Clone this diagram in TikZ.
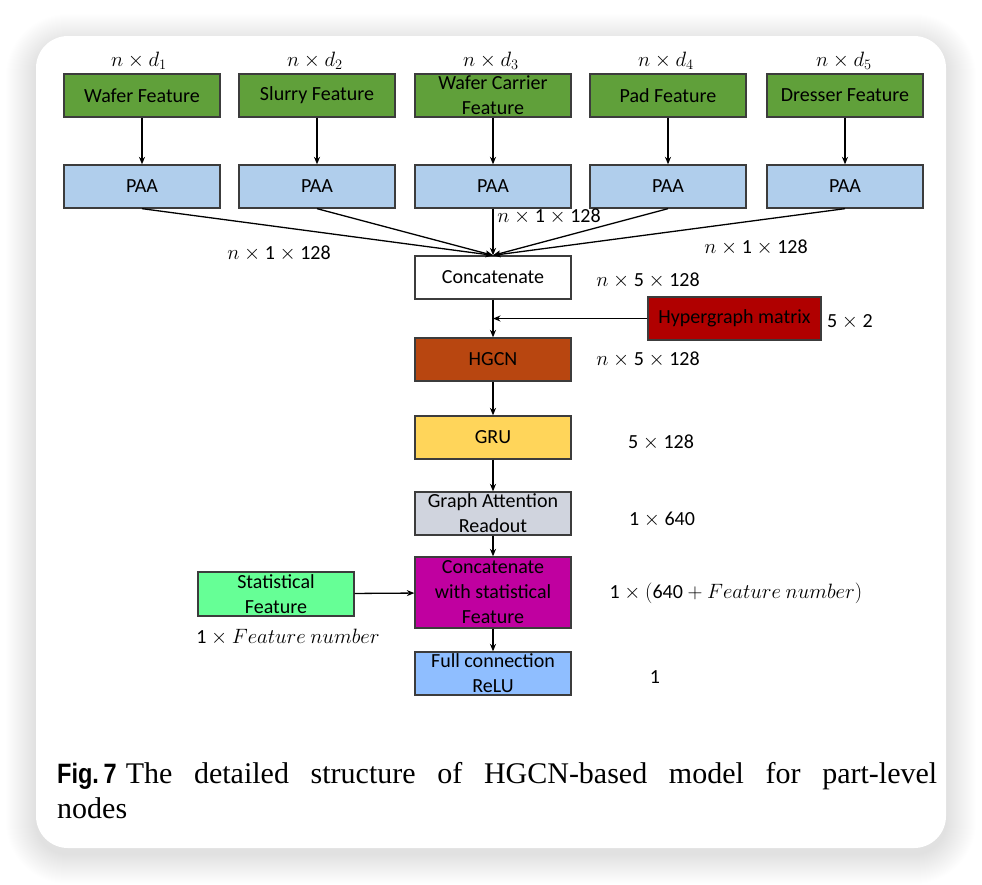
\documentclass[tikz,border=0pt]{standalone}
\usepackage{fontspec}
\setmainfont{Carlito}
\newfontfamily\capserif{Liberation Serif}
\newfontfamily\capsans[FakeStretch=0.84]{Liberation Sans}
\usetikzlibrary{arrows.meta}
\definecolor{cgreen}{RGB}{96,160,58}
\definecolor{cpaa}{RGB}{176,206,236}
\definecolor{chyp}{RGB}{176,0,0}
\definecolor{chgcn}{RGB}{184,70,16}
\definecolor{cgru}{RGB}{255,213,90}
\definecolor{cgar}{RGB}{208,212,222}
\definecolor{cmag}{RGB}{192,0,160}
\definecolor{cstat}{RGB}{102,255,150}
\definecolor{cfc}{RGB}{143,190,255}
\definecolor{cborder}{RGB}{60,60,60}
\newcommand{\tx}[1]{\mbox{#1}}
\tikzset{
  blk/.style={draw=cborder, line width=1.3pt, minimum width=156pt, minimum height=43pt,
    inner sep=0pt, align=center, font=\fontsize{20}{25}\selectfont},
  lab/.style={inner sep=0pt, font=\fontsize{20}{25}\selectfont},
  arr/.style={line width=1.3pt, -{Stealth[length=7.5pt,width=6pt]}},
}
\begin{document}
\begin{tikzpicture}[x=1pt,y=-1pt]
\useasboundingbox (0,0) rectangle (982,884);
\fill[white] (0,0) rectangle (982,884);
% shadow
\foreach \i [evaluate=\i as \r using 32+\i] in {1,...,30}{
  \fill[black, opacity=0.0055, rounded corners=\r pt] (36-\i,44-\i) rectangle (946+\i,854+\i);
}
\fill[white, rounded corners=32pt] (36,36) rectangle (946,848);

% feature boxes
\node[blk, fill=cgreen] (f1) at (142,95.5) {Wafer Feature};
\node[blk, fill=cgreen] (f2) at (317,95.5) {Slurry Feature};
\node[blk, fill=cgreen] (f3) at (493,95.5) {Wafer Carrier\\Feature};
\node[blk, fill=cgreen] (f4) at (668,95.5) {Pad Feature};
\node[blk, fill=cgreen] (f5) at (845,95.5) {Dresser Feature};

\node[lab] (d1) at (139,61) {$n\times d_1$};
\node[lab] (d2) at (315,61) {$n\times d_2$};
\node[lab] (d3) at (491,61) {$n\times d_3$};
\node[lab] (d4) at (666,61) {$n\times d_4$};
\node[lab] (d5) at (844,61) {$n\times d_5$};

% PAA
\node[blk, fill=cpaa] (p1) at (142,186.5) {PAA};
\node[blk, fill=cpaa] (p2) at (317,186.5) {PAA};
\node[blk, fill=cpaa] (p3) at (493,186.5) {PAA};
\node[blk, fill=cpaa] (p4) at (668,186.5) {PAA};
\node[blk, fill=cpaa] (p5) at (845,186.5) {PAA};

\foreach \k in {1,...,5}{ \draw[arr] (f\k) -- (p\k); }

% concatenate
\node[blk, fill=white] (cat) at (493,277.5) {Concatenate};
\foreach \k in {1,...,5}{ \draw[arr] (p\k.south) -- (cat.north); }

\node[lab] (l1) at (279,254) {$n\times\tx{1}\times\tx{128}$};
\node[lab] (l2) at (549,217) {$n\times\tx{1}\times\tx{128}$};
\node[lab] (l3) at (756,248) {$n\times\tx{1}\times\tx{128}$};
\node[lab] (l4) at (648,281) {$n\times\tx{5}\times\tx{128}$};

% hypergraph
\node[blk, fill=chyp, minimum width=173pt] (hyp) at (734.5,318.5) {Hypergraph matrix};
\node[lab] (l5) at (850,322) {$\tx{5}\times\tx{2}$};

% HGCN
\node[blk, fill=chgcn] (hgcn) at (493,359.5) {HGCN};
\node[lab] (l6) at (648,360) {$n\times\tx{5}\times\tx{128}$};
\draw[arr] (cat) -- (hgcn);
\coordinate (hj) at (hyp.west -| cat.south);
\draw[arr] (hyp.west) -- (hj);

% GRU
\node[blk, fill=cgru] (gru) at (493,437.5) {GRU};
\node[lab] (l7) at (661,443) {$\tx{5}\times\tx{128}$};
\draw[arr] (hgcn) -- (gru);

% GAR
\node[blk, fill=cgar] (gar) at (493,513.5) {Graph Attention\\Readout};
\node[lab] (l8) at (662,520) {$\tx{1}\times\tx{640}$};
\draw[arr] (gru) -- (gar);

% concat with stat
\node[blk, fill=cmag, minimum height=71pt] (cws) at (493,592.5) {Concatenate\\with statistical\\Feature};
\node[lab] (l9) at (736,593) {$\tx{1}\times(\tx{640}+Feature\ number)$};
\draw[arr] (gar) -- (cws);

\node[blk, fill=cstat, minimum height=44pt] (stat) at (276,594) {Statistical\\Feature};
\node[lab] (l10) at (288,637) {$\tx{1}\times Feature\ number$};
\draw[arr] (stat) -- (cws);

% full connection
\node[blk, fill=cfc] (fc) at (493,673.5) {Full connection\\ReLU};
\node[lab] (l11) at (655,677) {$\tx{1}$};
\draw[arr] (cws) -- (fc);

% caption
\node[anchor=north west, inner sep=0pt, text width=880pt, align=justify,
  font=\fontsize{30}{35}\selectfont] (cap) at (57,762)
  {{\capsans\bfseries\fontsize{28}{35}\selectfont Fig.\,7}\hspace{9pt}{\capserif The detailed structure of HGCN-based model for part-level\linebreak nodes}};
\end{tikzpicture}
\end{document}
